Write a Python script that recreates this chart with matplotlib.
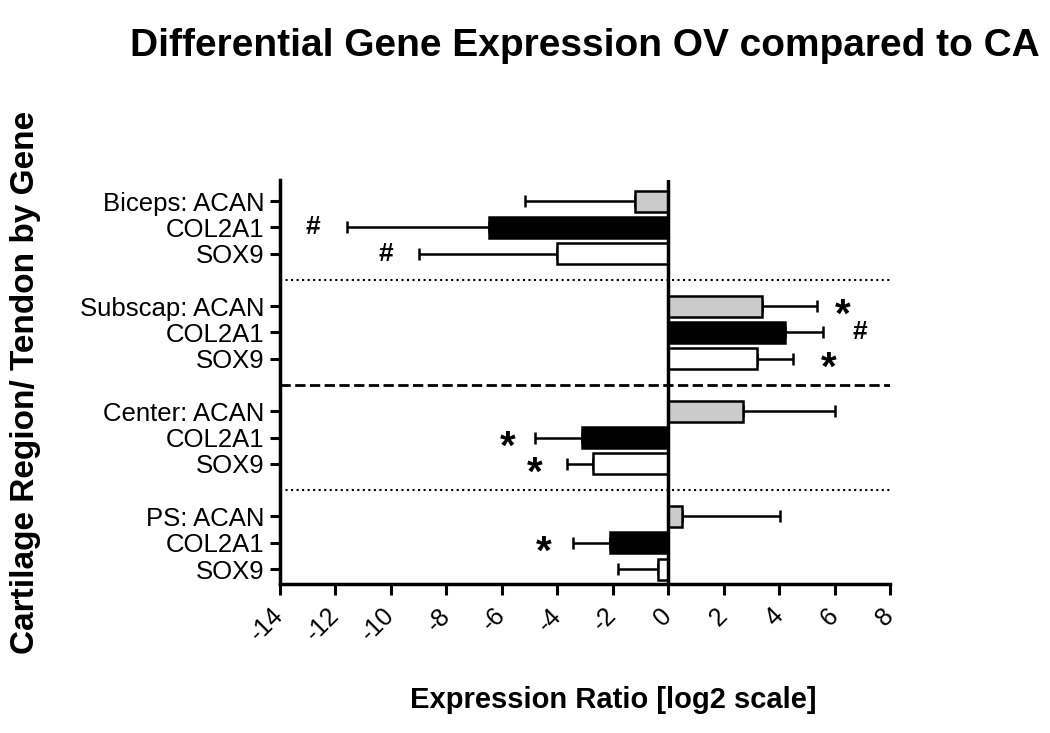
import matplotlib
matplotlib.use("Agg")
import matplotlib.pyplot as plt
import numpy as np

plt.rcParams['font.family'] = ['Liberation Sans', 'DejaVu Sans']

# ---- data ----
labels = ['Biceps: ACAN', 'COL2A1', 'SOX9',
          'Subscap: ACAN', 'COL2A1', 'SOX9',
          'Center: ACAN', 'COL2A1', 'SOX9',
          'PS: ACAN', 'COL2A1', 'SOX9']
genes = ['ACAN', 'COL2A1', 'SOX9'] * 4
values = [-1.2, -6.45, -4.0,
          3.4, 4.2, 3.2,
          2.7, -3.1, -2.7,
          0.5, -2.1, -0.35]
err_ends = [-5.15, -11.6, -9.0,
            5.35, 5.6, 4.5,
            6.0, -4.8, -3.65,
            4.05, -3.45, -1.8]
marks = ['', '#', '#',
         '*', '#', '*',
         '', '*', '*',
         '', '*', '']
mark_x = [0, -12.8, -10.2,
          6.3, 6.9, 5.8,
          0, -5.8, -4.8,
          0, -4.5, 0]
xticks = list(range(-14, 9, 2))
gene_colors = {'ACAN': '#cbcbcb', 'COL2A1': '#000000', 'SOX9': '#ffffff'}

# ---- layout ----
rows = [0, 1, 2, 4, 5, 6, 8, 9, 10, 12, 13, 14]
separators = [(3, ':', 1.5), (7, '--', 2.0), (11, ':', 1.5)]

fig = plt.figure(figsize=(10.5, 7.33), dpi=100)
ax = fig.add_axes([280/1050, 1-584/733, 610/1050, 404/733])

vals = np.array(values)
ends = np.array(err_ends)
lower = np.where(vals < 0, vals - ends, 0)
upper = np.where(vals >= 0, ends - vals, 0)

ax.errorbar(vals, rows, xerr=[lower, upper], fmt='none', ecolor='black',
            elinewidth=1.8, capsize=4, capthick=1.8, zorder=1)
ax.barh(rows, vals, height=0.8, color=[gene_colors[g] for g in genes],
        edgecolor='black', linewidth=1.8, zorder=2)

for r, m, mx in zip(rows, marks, mark_x):
    if m:
        fs = 29 if m == '*' else 19
        dy = 0.38 if m == '*' else 0.0
        ax.text(mx, r + dy, m, ha='center', va='center', fontsize=fs,
                fontweight='bold', zorder=3)

for y, ls, lw in separators:
    ax.plot([-14, 8], [y, y], ls=ls, color='black', lw=lw, zorder=0)

ax.axvline(0, color='black', lw=2.5, zorder=4)

ax.set_xlim(-14, 8)
ax.set_ylim(14.57, -0.8)
ax.set_xticks(xticks)
ax.set_xticklabels([str(t) for t in xticks], rotation=45, ha='right',
                   va='center', rotation_mode='anchor', fontsize=18)
ax.set_yticks(rows)
ax.set_yticklabels(labels, fontsize=18.5)
ax.tick_params(axis='x', length=8, width=2.2, pad=12)
ax.tick_params(axis='y', length=7, width=2.2, pad=4)
for s in ['top', 'right']:
    ax.spines[s].set_visible(False)
for s in ['left', 'bottom']:
    ax.spines[s].set_linewidth(2.5)

fig.text(585/1050, 1-46/733, 'Differential Gene Expression OV compared to CA',
         ha='center', va='center', fontsize=28, fontweight='bold')
fig.text(613/1050, 1-700/733, 'Expression Ratio [log2 scale]',
         ha='center', va='center', fontsize=21, fontweight='bold')
fig.text(26/1050, 1-382/733, 'Cartilage Region/ Tendon by Gene',
         ha='center', va='center', fontsize=24, fontweight='bold', rotation=90)

fig.savefig('out.png', dpi=100)
